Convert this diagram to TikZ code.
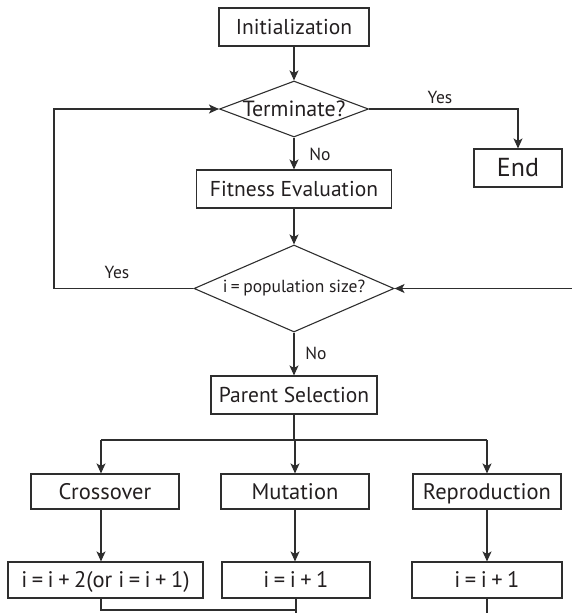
\documentclass[tikz,border=0pt]{standalone}
\usepackage{fontspec}
\setmainfont{PT Sans}
\usetikzlibrary{shapes.geometric,arrows.meta}
\definecolor{ink}{HTML}{231F20}
\definecolor{wire}{HTML}{2E2E2E}
\newcommand{\opgap}{\hspace{0.2em}}

\begin{document}
\begin{tikzpicture}[x=1pt,y=-1pt,
  line/.style={draw=wire, line width=1.1pt},
  arr/.style={line, -{Stealth[length=10pt,width=9pt,inset=2.5pt]}},
  box/.style={draw=wire, line width=1.1pt, rectangle, inner sep=0pt, text=ink,
              text height=16pt, text depth=1pt,
              font=\fontsize{21.5}{24}\selectfont},
  opbox/.style={box, minimum width=148pt, minimum height=35pt,
              font=\fontsize{22.5}{26}\selectfont},
  dec/.style={draw=wire, line width=1.1pt, diamond, inner sep=0pt, text=ink},
  lbl/.style={text=ink, font=\fontsize{17.5}{20}\selectfont, inner sep=0pt},
]
\useasboundingbox (0,0) rectangle (572,613);

% main column
\node[box, minimum width=150pt, minimum height=38pt] (init) at (294,27) {Initialization};
\node[dec, minimum width=149pt, minimum height=56pt, aspect=2.66,
      font=\fontsize{22}{24}\selectfont] (term) at (294,109) {Terminate?};
\node[box, minimum width=88pt, minimum height=38pt, font=\fontsize{26}{28}\selectfont,
      text height=18.5pt] (endn) at (518,168) {End};
\node[box, minimum width=195pt, minimum height=38pt] (fit) at (294,189) {Fitness Evaluation};
\node[dec, minimum width=200pt, minimum height=87pt, aspect=2.3,
      font=\fontsize{17.5}{20}\selectfont] (pop) at (294,288.5) {i\opgap=\opgap population size?};
\node[box, minimum width=166pt, minimum height=38pt] (ps) at (294,395) {Parent Selection};

% operators
\node[opbox] (cross) at (105,491.5) {Crossover};
\node[opbox] (mut) at (295,491.5) {Mutation};
\node[opbox] (rep) at (487,491.5) {Reproduction};

% counters
\node[opbox, minimum width=195pt, minimum height=36pt] (inc2) at (105.5,580)
      {i\opgap=\opgap i\opgap+\opgap 2(or i\opgap=\opgap i\opgap+\opgap 1)};
\node[opbox, minimum height=36pt] (incm) at (296,580) {i\opgap=\opgap i\opgap+\opgap 1};
\node[opbox, minimum width=150pt, minimum height=36pt] (incr) at (487,580) {i\opgap=\opgap i\opgap+\opgap 1};

% branch labels
\node[lbl] (yes1) at (440,97) {Yes};
\node[lbl] (no1) at (320,154) {No};
\node[lbl] (yes2) at (117,272) {Yes};
\node[lbl] (no2) at (316,353) {No};

% helper points
\coordinate (loop) at (54,288.5);
\coordinate (rin) at (572,288.5);
\coordinate (split) at (294,440);
\coordinate (hl) at (101,440);
\coordinate (hr) at (487,440);
\coordinate (bl) at (101,610);
\coordinate (bot) at (0,613);

% connectors
\draw[arr] (init) -- (term);
\draw[arr] (term) -- (fit);
\draw[arr] (term.east) -| (endn.north);
\draw[arr] (fit) -- (pop);
\draw[arr] (pop.west) -- (loop) |- (term.west);
\draw[arr] (rin) -- (pop.east);
\draw[arr] (pop) -- (ps);
\draw[line] (ps.south) -- (split);
\draw[line] (hl) -- (hr);
\draw[arr] (hl) -- (hl |- cross.north);
\draw[arr] (split -| mut) -- (mut.north);
\draw[arr] (hr) -- (rep.north);
\draw[arr] (cross.south -| hl) -- (hl |- inc2.north);
\draw[arr] (mut.south) -- (mut.south |- incm.north);
\draw[arr] (rep.south) -- (rep.south |- incr.north);
\draw[line] (inc2.south -| bl) -- (bl) -- (bl -| incm);
\draw[line] (incm.south) -- (incm.south |- bot);
\draw[line] (incr.south) -- (incr.south |- bot);
\end{tikzpicture}
\end{document}
